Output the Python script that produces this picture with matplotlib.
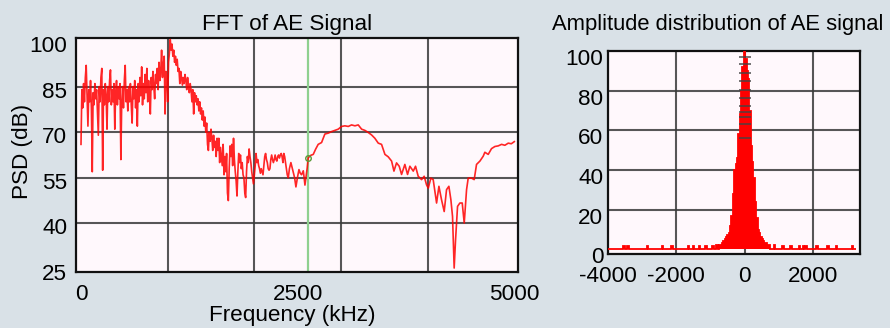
import numpy as np
import matplotlib.pyplot as plt
from matplotlib.transforms import ScaledTranslation

plt.rcParams['font.family'] = ['Liberation Sans', 'DejaVu Sans']
plt.rcParams['axes.unicode_minus'] = False

# PSD of the AE signal (kHz, dB)
freq_khz = [
    0, 10, 20, 30, 40, 50, 60, 70, 80, 90, 100, 110, 120, 130, 140, 150, 160, 170, 180, 190,
    200, 210, 220, 230, 240, 250, 260, 270, 280, 290, 300, 310, 320, 330, 340, 350, 360, 370, 380, 390,
    400, 410, 420, 430, 440, 450, 460, 470, 480, 490, 500, 510, 520, 530, 540, 550, 560, 570, 580, 590,
    600, 610, 620, 630, 640, 650, 660, 670, 680, 690, 700, 710, 720, 730, 740, 750, 760, 770, 780, 790,
    800, 810, 820, 830, 840, 850, 860, 870, 880, 890, 900, 910, 920, 930, 940, 950, 960, 970, 980, 990,
    1000, 1010, 1020, 1030, 1040, 1050, 1060, 1070, 1080, 1090, 1100, 1110, 1120, 1130, 1140, 1150,
    1160, 1170, 1180, 1190, 1200, 1210, 1220, 1230, 1240, 1250, 1260, 1270, 1280, 1290, 1300, 1310,
    1320, 1330, 1340, 1350, 1360, 1370, 1380, 1390, 1400, 1410, 1420, 1430, 1440, 1450, 1460, 1470,
    1480, 1490, 1500, 1510, 1520, 1530, 1540, 1550, 1560, 1570, 1580, 1590, 1600, 1610, 1620, 1630,
    1640, 1650, 1660, 1670, 1680, 1690, 1700, 1710, 1720, 1730, 1740, 1750, 1760, 1770, 1780, 1790,
    1800, 1810, 1820, 1830, 1840, 1850, 1860, 1870, 1880, 1890, 1900, 1910, 1920, 1930, 1940, 1950,
    1960, 1970, 1980, 1990, 2000, 2010, 2020, 2030, 2040, 2050, 2060, 2070, 2080, 2090, 2100, 2110,
    2120, 2130, 2140, 2150, 2160, 2170, 2180, 2190, 2200, 2210, 2220, 2230, 2240, 2250, 2260, 2270,
    2280, 2290, 2300, 2310, 2320, 2330, 2340, 2350, 2360, 2370, 2380, 2392, 2405, 2422, 2435, 2449,
    2465, 2480, 2497, 2515, 2530, 2545, 2565, 2575, 2584, 2595, 2610, 2622,
    2652, 2680, 2707, 2737, 2776, 2814, 2853, 2891, 2930, 2968, 3007, 3045, 3084, 3122, 3161, 3199,
    3238, 3276, 3315, 3353, 3391, 3430, 3468, 3507, 3545, 3584, 3611, 3641, 3672, 3699, 3737, 3768,
    3795, 3834, 3860, 3891, 3930, 3960, 3987, 4007, 4037, 4064, 4103, 4130, 4160, 4191, 4218, 4245,
    4268, 4287, 4306, 4322, 4345, 4372, 4399, 4422, 4449, 4468, 4507, 4537, 4564, 4603, 4641, 4660,
    4699, 4737, 4776, 4814, 4853, 4891, 4930, 4965, 5000,
]
psd_db = [
    66, 84, 78, 86, 80, 88, 92, 82, 72, 84, 80, 87, 78, 57, 83, 79, 86, 81, 84, 76,
    69, 85, 80, 88, 91, 57.5, 84, 79, 86, 82, 71, 85, 80, 87, 90.5, 79, 84, 80, 86, 71,
    83, 87, 79, 85, 81, 86, 61, 80, 85, 78, 87, 92, 80, 84, 77, 85, 80, 86, 79, 73,
    85, 81, 87, 78, 84, 72, 86, 80, 88, 82, 91.5, 79, 86, 81, 89, 83, 91, 80, 87, 82,
    76, 88, 84, 90, 85, 81, 89, 86, 91, 84, 93, 87, 90, 97, 88, 92, 95, 76, 90, 88,
    80, 93, 96, 100.5, 97, 99, 95, 97, 93, 95, 92, 94, 90, 91, 86, 90,
    88, 85.5, 88, 86, 89, 87, 84, 88, 85, 83, 86, 84, 80, 84, 76, 83,
    80, 82, 79, 81, 77, 80, 76, 78, 74, 77, 72, 75, 70, 73, 66, 64,
    70, 67, 71, 68, 64, 69, 65, 67, 62, 68, 64, 68, 60, 65, 62, 59,
    66, 56, 62, 57, 63, 50, 47.5, 58, 65.5, 62, 66, 59, 68, 61, 57, 54,
    49, 57, 63, 60, 62.5, 58, 60, 56, 55, 50, 48.5, 57, 62, 60, 64.5, 62,
    60, 57, 55, 53, 56, 59, 63, 60, 61, 59, 58, 56.5, 58, 57, 56, 59,
    62, 63, 61, 60, 58, 57.5, 58, 61, 62.5, 61, 60, 61, 62.5, 61, 60.5, 62,
    62.5, 61.5, 62.5, 63, 62, 60, 63, 62, 60, 58, 56, 55, 58, 60, 58.5, 57,
    55, 52, 55, 57.7, 56.5, 56, 57.3, 55, 52.6, 55, 58.2, 61.6,
    62.4, 62.7, 64.4, 66, 66.6, 69.4, 69.7, 70.2, 70.6, 71, 71.9, 72.1, 71.9, 72.4, 72.1, 72.4,
    71, 70.6, 69.9, 69.1, 68, 66.4, 66, 62.7, 61.9, 60.5, 57.2, 59.9, 58.8, 56.1, 59.4, 56.1,
    58.8, 57.2, 58.8, 55.5, 54.4, 55.5, 52.7, 51.6, 54.9, 54.4, 46.7, 52.2, 47.8, 43.9, 51.1, 52.2,
    47.8, 42.3, 25.3, 34.6, 45.6, 46.7, 46.7, 40.1, 51.1, 54.9, 54.9, 54.4, 59.4, 60.5, 62.1, 63.4,
    62.7, 64.6, 65.3, 65.5, 66, 65.7, 66.4, 66.2, 66.9,
]
cursor_khz = 2622
cursor_db = 61.6

# amplitude histogram: central bins and sparse tail counts
amp_centers = [-720, -680, -640, -600, -560, -520, -480, -440, -400, -360, -320, -280, -240,
               -200, -160, -120, -80, -40, 0, 40, 80, 120, 160, 200, 240, 280, 320, 360, 400,
               440, 480, 520, 560, 600, 640, 680, 720]
amp_counts = [2, 2, 3, 4, 5, 6, 7, 8, 12, 17, 28, 40, 43,
              46, 58, 68, 80, 92, 100, 96, 90, 86, 70, 52, 44, 36, 24, 16, 10,
              8, 6, 5, 4, 3, 3, 2, 2]
tail_centers = [-3520, -3400, -2840, -2400, -2120, -1640, -1480, -1320, -1120, -920, -800,
                880, 1120, 1360, 1600, 1720, 1800, 2120, 2440, 2680, 3160]
tail_counts = [1.5, 1.5, 1.5, 1.5, 1.5, 1.5, 1.5, 1.5, 1.5, 1.5, 2,
               2, 1.5, 1.5, 1.5, 1.5, 1.5, 1.5, 1.5, 1.5, 1.5]
peak_marks = [97, 93.5, 89, 85, 80.5, 76.5, 72.5, 69, 66.5, 63, 56]

bg = '#d9e1e7'
face = '#fff8fc'
gridc = '#3a3a3a'
fs = 16.2

fig = plt.figure(figsize=(8.9, 3.28), dpi=100, facecolor=bg)

# ---- left: FFT
ax1 = fig.add_axes([75.8 / 890, 1 - 271.7 / 328, 442.5 / 890, 233.4 / 328], facecolor=face)
ax1.plot(freq_khz, psd_db, color='red', lw=1.2, alpha=0.85, zorder=3)
ax1.axvline(cursor_khz, color='#8fd08f', lw=1.6, zorder=2)
ax1.plot([cursor_khz], [cursor_db], 'o', ms=4, mfc='none', mec='#5a9a3a', mew=1, zorder=4)
ax1.set_xlim(-60, 5046)
ax1.set_ylim(24.1, 100.9)
ax1.set_xticks([0, 2500, 5000])
ax1.set_yticks([25, 40, 55, 70, 85, 100])
for v in [1000, 2000, 3000, 4000]:
    ax1.axvline(v, color=gridc, lw=1.5, alpha=0.85, zorder=1)
for v in [40, 55, 70, 85]:
    ax1.axhline(v, color=gridc, lw=1.5, alpha=0.85, zorder=1)
ax1.tick_params(axis='x', length=0, pad=8.5, labelsize=fs)
ax1.tick_params(axis='y', length=0, pad=6, labelsize=fs)
for lab in ax1.get_yticklabels():
    lab.set_transform(lab.get_transform() + ScaledTranslation(0, -3 / 100, fig.dpi_scale_trans))

fig.text(287 / 890, 1 - 30 / 328, 'FFT of AE Signal', ha='center', va='baseline', fontsize=fs)
fig.text(292 / 890, 1 - 321 / 328, 'Frequency (kHz)', ha='center', va='baseline', fontsize=fs)
fig.text(22.5 / 890, 1 - 151 / 328, 'PSD (dB)', ha='center', va='center', rotation=90, fontsize=fs)

# ---- right: amplitude distribution
ax2 = fig.add_axes([607.5 / 890, 1 - 254 / 328, 252.5 / 890, 203 / 328], facecolor=face)
edges = np.arange(-3980, 3261, 40)
centers = edges[:-1] + 20
counts = np.zeros(len(centers))
for c, n in zip(amp_centers + tail_centers, amp_counts + tail_counts):
    counts[np.argmin(np.abs(centers - c))] = n
ax2.stairs(counts, edges, fill=True, color='red', zorder=3)
ax2.stairs(counts, edges, color='red', lw=1.3, zorder=3)
ax2.plot(np.zeros(len(peak_marks)), peak_marks, '_', color='#444444', ms=9, mew=1.3,
         alpha=0.8, zorder=4)
ax2.set_xlim(-4000, 3372)
ax2.set_ylim(-2.35, 99.2)
ax2.set_xticks([-4000, -2000, 0, 2000])
ax2.set_yticks([0, 20, 40, 60, 80, 100])
for v in [-2000, 0, 2000]:
    ax2.axvline(v, color=gridc, lw=1.5, alpha=0.85, zorder=1)
for v in [20, 40, 60, 80]:
    ax2.axhline(v, color=gridc, lw=1.5, alpha=0.85, zorder=1)
ax2.tick_params(axis='x', length=0, pad=9, labelsize=fs)
ax2.tick_params(axis='y', length=0, pad=3, labelsize=fs)
for lab in ax2.get_yticklabels():
    lab.set_transform(lab.get_transform() + ScaledTranslation(0, -6 / 100, fig.dpi_scale_trans))

fig.text(718 / 890, 1 - 30 / 328, 'Amplitude distribution of AE signal', ha='center',
         va='baseline', fontsize=15.8)

for ax in (ax1, ax2):
    for s in ax.spines.values():
        s.set_color('#111111')
        s.set_linewidth(1.6)

fig.savefig('out.png', dpi=100, facecolor=bg)
